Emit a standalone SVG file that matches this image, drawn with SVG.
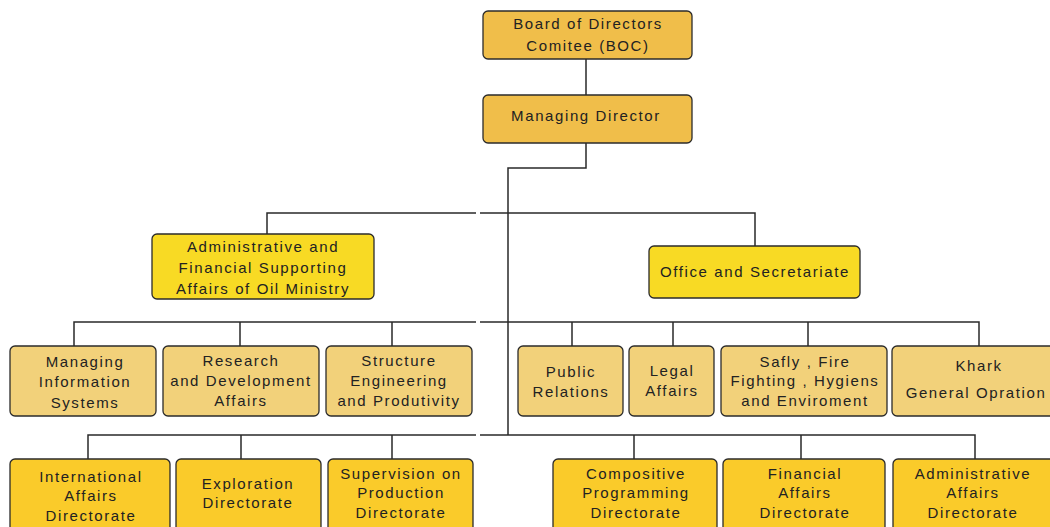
<svg xmlns="http://www.w3.org/2000/svg" width="1050" height="527" viewBox="0 0 1050 527">
<style>
  .box{stroke:#2b2b2b;stroke-width:1.3}
  .top{fill:#F0BE4A}
  .yel{fill:#F8DA24}
  .tan{fill:#F2D17A}
  .gold{fill:#FACB2A}
  text{font-family:"Liberation Sans",Arial,sans-serif;font-size:15px;fill:#222;text-anchor:middle;letter-spacing:1.6px}
  .ln{fill:none;stroke:#2a2a2a;stroke-width:1.5}
</style>
<rect width="1050" height="527" fill="#ffffff"/>
<g id="connectors">
  <path class="ln" d="M586 59V95M586 143V168H508V435"/>
  <path class="ln" d="M267 234V213H476M480 213H755V246"/>
  <path class="ln" d="M74 346V322H476M480 322H979V346M240 322V346M392 322V346M572 322V346M673 322V346M808 322V346"/>
  <path class="ln" d="M88 459V435H476M480 435H975V459M241 435V459M392 435V459M634 435V459M801 435V459"/>
</g>
<g id="board"><rect class="box top" x="483" y="11" width="209" height="48" rx="5"/><text x="588" y="29">Board of Directors</text><text x="588" y="51">Comitee (BOC)</text></g>
<g id="md"><rect class="box top" x="483" y="95" width="209" height="48" rx="5"/><text x="586" y="121">Managing Director</text></g>
<g id="admin-fin"><rect class="box yel" x="152" y="234" width="222" height="65" rx="5"/><text x="263" y="252">Administrative and</text><text x="263" y="273">Financial Supporting</text><text x="263" y="294">Affairs of Oil Ministry</text></g>
<g id="office"><rect class="box yel" x="649" y="246" width="211" height="52" rx="5"/><text x="755" y="277">Office and Secretariate</text></g>
<g id="mis"><rect class="box tan" x="10" y="346" width="146" height="70" rx="5"/><text x="85" y="367">Managing</text><text x="85" y="387">Information</text><text x="85" y="408">Systems</text></g>
<g id="research"><rect class="box tan" x="163" y="346" width="156" height="70" rx="5"/><text x="241" y="366">Research</text><text x="241" y="386">and Development</text><text x="241" y="406">Affairs</text></g>
<g id="structure"><rect class="box tan" x="326" y="346" width="146" height="70" rx="5"/><text x="399" y="366">Structure</text><text x="399" y="386">Engineering</text><text x="399" y="406">and Produtivity</text></g>
<g id="public"><rect class="box tan" x="518" y="346" width="105" height="70" rx="5"/><text x="571" y="377">Public</text><text x="571" y="397">Relations</text></g>
<g id="legal"><rect class="box tan" x="629" y="346" width="85" height="70" rx="5"/><text x="672" y="376">Legal</text><text x="672" y="396">Affairs</text></g>
<g id="safly"><rect class="box tan" x="721" y="346" width="166" height="70" rx="5"/><text x="805" y="367">Safly , Fire</text><text x="805" y="386">Fighting , Hygiens</text><text x="805" y="406">and Enviroment</text></g>
<g id="khark"><rect class="box tan" x="892" y="346" width="165" height="70" rx="5"/><text x="979" y="371">Khark</text><text x="976" y="398">General Opration</text></g>
<g id="intl"><rect class="box gold" x="10" y="459" width="160" height="75" rx="5"/><text x="91" y="482">International</text><text x="91" y="501">Affairs</text><text x="91" y="521">Directorate</text></g>
<g id="exploration"><rect class="box gold" x="176" y="459" width="145" height="75" rx="5"/><text x="248" y="489">Exploration</text><text x="248" y="508">Directorate</text></g>
<g id="supervision"><rect class="box gold" x="328" y="459" width="145" height="75" rx="5"/><text x="401" y="479">Supervision on</text><text x="401" y="498">Production</text><text x="401" y="518">Directorate</text></g>
<g id="compositive"><rect class="box gold" x="553" y="459" width="164" height="75" rx="5"/><text x="636" y="479">Compositive</text><text x="636" y="498">Programming</text><text x="636" y="518">Directorate</text></g>
<g id="financial"><rect class="box gold" x="723" y="459" width="162" height="75" rx="5"/><text x="805" y="479">Financial</text><text x="805" y="498">Affairs</text><text x="805" y="518">Directorate</text></g>
<g id="admin-affairs"><rect class="box gold" x="893" y="459" width="162" height="75" rx="5"/><text x="973" y="479">Administrative</text><text x="973" y="498">Affairs</text><text x="973" y="518">Directorate</text></g>
</svg>
